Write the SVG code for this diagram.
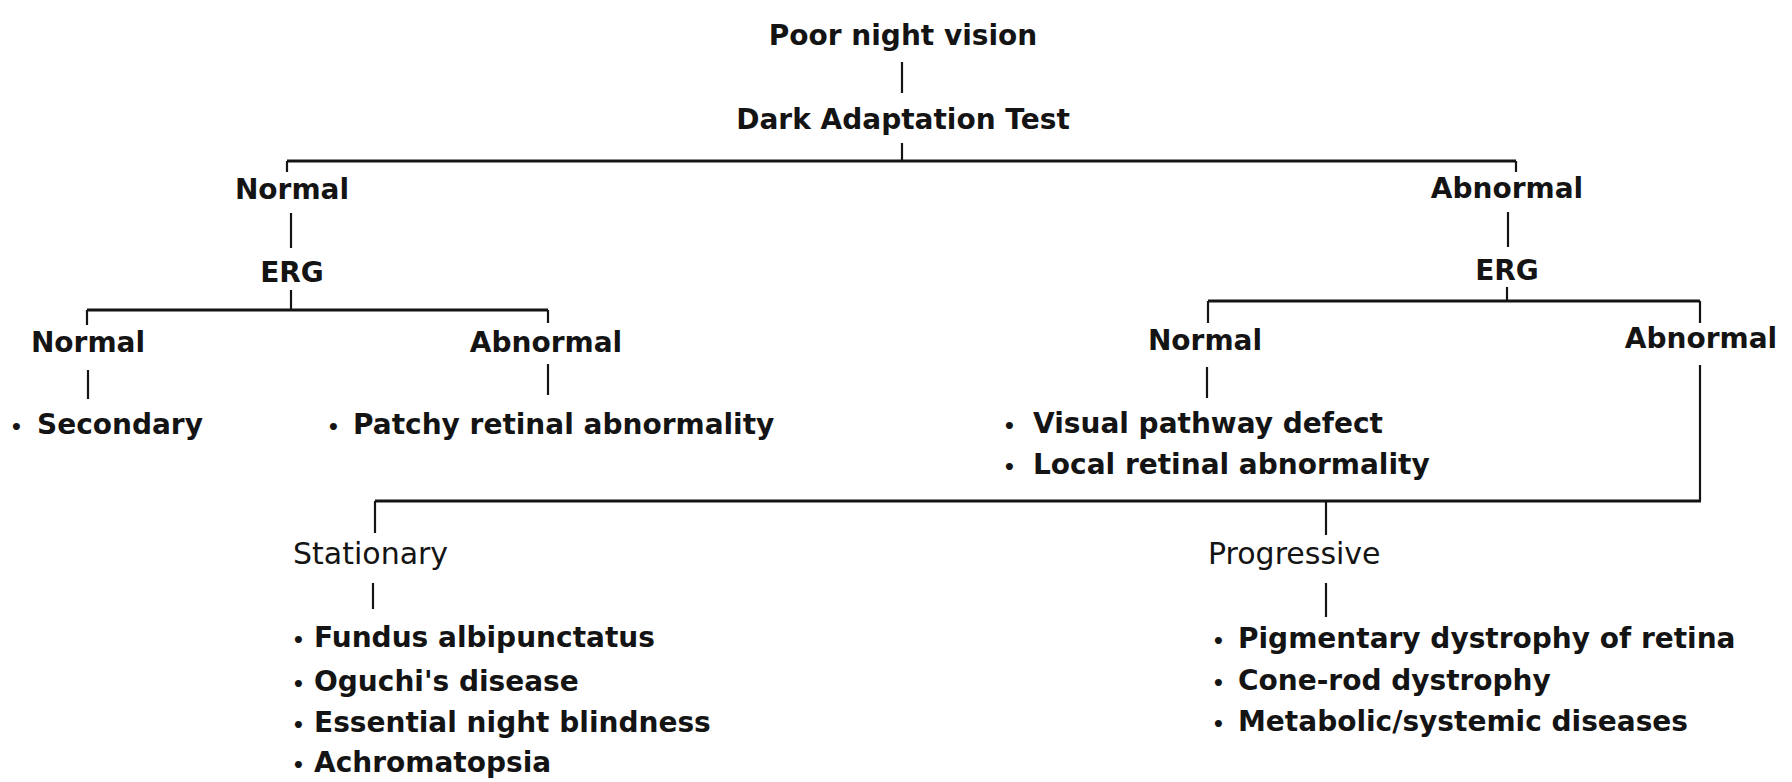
<svg xmlns="http://www.w3.org/2000/svg" width="1792" height="782" viewBox="0 0 1792 782">
<style>
  text { font-family: "DejaVu Sans", "Liberation Sans", sans-serif; font-size: 28px; font-weight: bold; fill: #141414; }
  .c { text-anchor: middle; }
  .r { font-weight: normal; font-size: 30px; }
  .b { font-size: 20px; }
  .ln { stroke: #141414; stroke-width: 2.2; fill: none; stroke-linecap: butt; }
  .hl { stroke: #141414; stroke-width: 3; fill: none; }
</style>
<rect width="1792" height="782" fill="#ffffff"/>
<g id="connectors">
  <path class="ln" d="M902 62V93"/>
  <path class="ln" d="M902 143V161"/>
  <path class="hl" d="M287 161H1516"/>
  <path class="ln" d="M287 161V172M1516 161V172"/>
  <path class="ln" d="M291 213V248"/>
  <path class="ln" d="M291 290V310"/>
  <path class="hl" d="M87 310H548"/>
  <path class="ln" d="M87 310V325M548 310V323"/>
  <path class="ln" d="M88 370V399"/>
  <path class="ln" d="M548 364V395"/>
  <path class="ln" d="M1508 212V247"/>
  <path class="ln" d="M1507 287V301"/>
  <path class="hl" d="M1208 301H1700"/>
  <path class="ln" d="M1208 301V323M1700 301V323"/>
  <path class="ln" d="M1207 367V398"/>
  <path class="ln" d="M1700 365V501"/>
  <path class="hl" d="M375 501H1701"/>
  <path class="ln" d="M375 501V533"/>
  <path class="ln" d="M1326 501V535"/>
  <path class="ln" d="M373 583V609"/>
  <path class="ln" d="M1326 583V617"/>
</g>
<g id="poor-night-vision"><text class="c" x="903" y="45">Poor night vision</text></g>
<g id="dark-adaptation-test"><text class="c" x="903" y="129">Dark Adaptation Test</text></g>
<g id="dat-normal"><text class="c" x="292" y="199">Normal</text></g>
<g id="dat-abnormal"><text class="c" x="1507" y="198">Abnormal</text></g>
<g id="erg-left"><text class="c" x="292" y="282">ERG</text></g>
<g id="erg-right"><text class="c" x="1507" y="280">ERG</text></g>
<g id="erg-left-normal"><text class="c" x="88" y="352">Normal</text></g>
<g id="erg-left-abnormal"><text class="c" x="546" y="352">Abnormal</text></g>
<g id="erg-right-normal"><text class="c" x="1205" y="350">Normal</text></g>
<g id="erg-right-abnormal"><text class="c" x="1701" y="348">Abnormal</text></g>
<g id="secondary"><text y="434"><tspan class="b" x="10">•</tspan><tspan x="37">Secondary</tspan></text></g>
<g id="patchy"><text y="434"><tspan class="b" x="327">•</tspan><tspan x="353">Patchy retinal abnormality</tspan></text></g>
<g id="visual-local">
  <text y="433"><tspan class="b" x="1003">•</tspan><tspan x="1033">Visual pathway defect</tspan></text>
  <text y="474"><tspan class="b" x="1003">•</tspan><tspan x="1033">Local retinal abnormality</tspan></text>
</g>
<g id="stationary"><text class="r" x="293" y="564">Stationary</text></g>
<g id="progressive"><text class="r" x="1208" y="564">Progressive</text></g>
<g id="stationary-list">
  <text y="647"><tspan class="b" x="292">•</tspan><tspan x="314">Fundus albipunctatus</tspan></text>
  <text y="691"><tspan class="b" x="292">•</tspan><tspan x="314">Oguchi's disease</tspan></text>
  <text y="732"><tspan class="b" x="292">•</tspan><tspan x="314">Essential night blindness</tspan></text>
  <text y="772"><tspan class="b" x="292">•</tspan><tspan x="314">Achromatopsia</tspan></text>
</g>
<g id="progressive-list">
  <text y="648"><tspan class="b" x="1212">•</tspan><tspan x="1238">Pigmentary dystrophy of retina</tspan></text>
  <text y="690"><tspan class="b" x="1212">•</tspan><tspan x="1238">Cone-rod dystrophy</tspan></text>
  <text y="731"><tspan class="b" x="1212">•</tspan><tspan x="1238">Metabolic/systemic diseases</tspan></text>
</g>
</svg>
